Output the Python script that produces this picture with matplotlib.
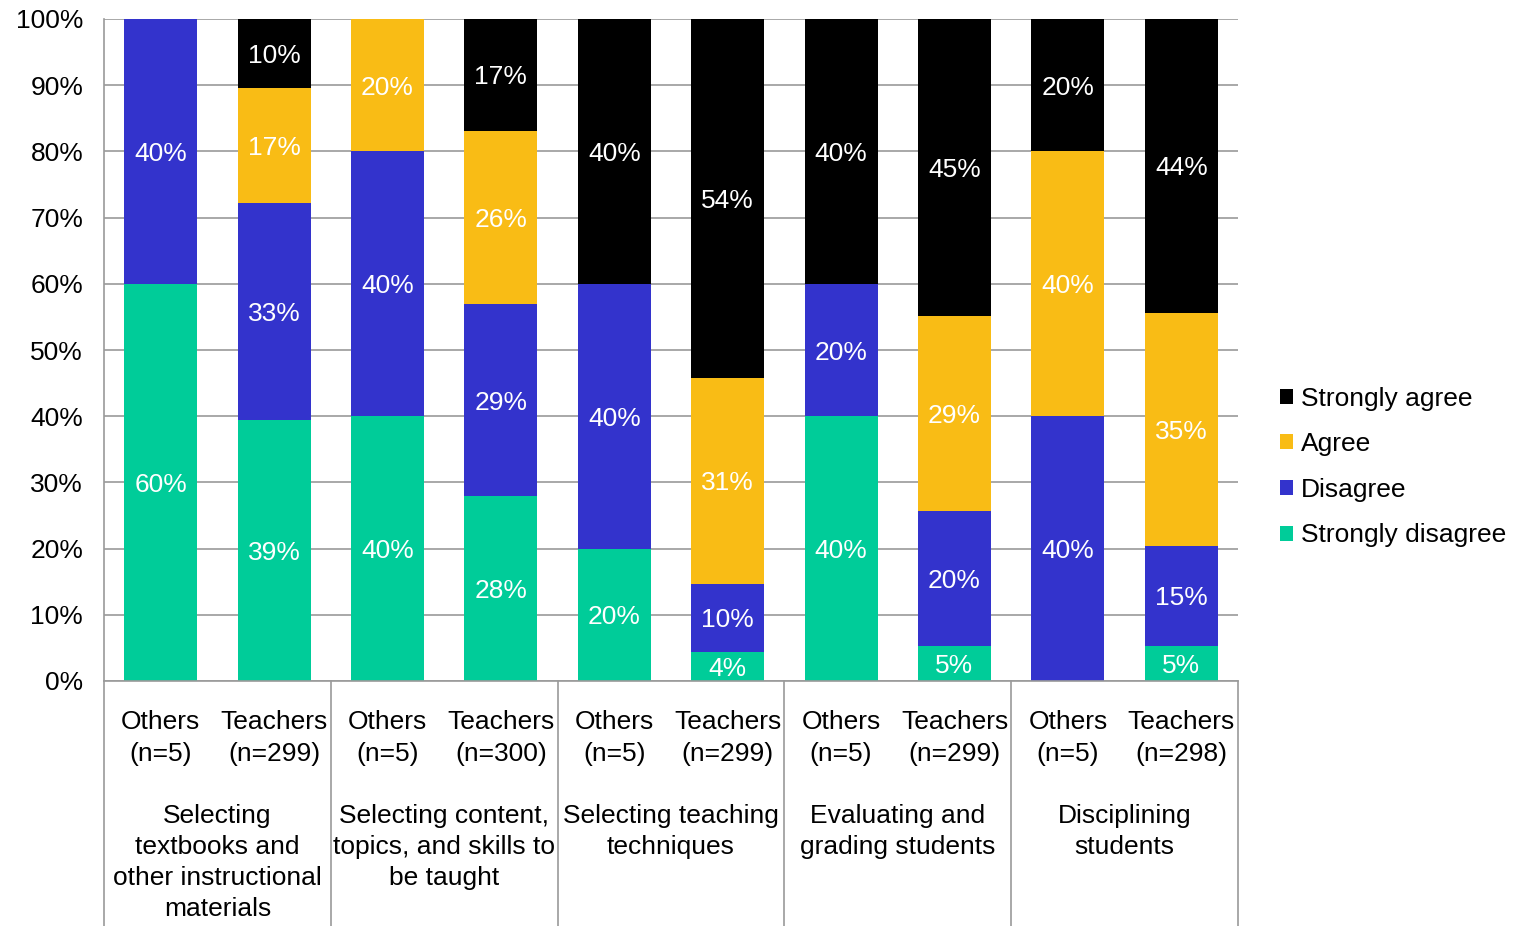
import matplotlib
matplotlib.use("Agg")
import matplotlib.pyplot as plt
import numpy as np
from matplotlib.lines import Line2D
from matplotlib.transforms import blended_transform_factory

plt.rcParams['font.family'] = ['Liberation Sans', 'DejaVu Sans']

# Respondent groups (one bar each) and the activity each pair belongs to
bar_labels = ["Others\n(n=5)", "Teachers\n(n=299)",
              "Others\n(n=5)", "Teachers\n(n=300)",
              "Others\n(n=5)", "Teachers\n(n=299)",
              "Others\n(n=5)", "Teachers\n(n=299)",
              "Others\n(n=5)", "Teachers\n(n=298)"]
group_labels = ["Selecting\ntextbooks and\nother instructional\nmaterials",
                "Selecting content,\ntopics, and skills to\nbe taught",
                "Selecting teaching\ntechniques",
                "Evaluating and\ngrading students",
                "Disciplining\nstudents"]

# Percent of respondents in each response category
strongly_disagree = [60, 39.4, 40, 27.9, 20, 4.4, 40, 5.3, 0, 5.3]
disagree = [40, 32.8, 40, 29.0, 40, 10.3, 20, 20.4, 40, 15.1]
agree = [0, 17.4, 20, 26.2, 0, 31.1, 0, 29.4, 40, 35.2]
strongly_agree = [0, 10.4, 0, 16.9, 40, 54.2, 40, 44.9, 20, 44.4]

series = [("Strongly disagree", strongly_disagree, "#00CC99"),
          ("Disagree", disagree, "#3333CC"),
          ("Agree", agree, "#F9BC15"),
          ("Strongly agree", strongly_agree, "#000000")]

W, H = 1523, 926
fig = plt.figure(figsize=(W / 100, H / 100), dpi=100)
left, right, top, bottom = 104, 1238, 19, 681
ax = fig.add_axes([left / W, 1 - bottom / H, (right - left) / W, (bottom - top) / H])

x = np.arange(len(bar_labels))
fs = 19
base = np.zeros(len(x))
handles = {}
for name, vals, color in series:
    vals = np.array(vals, dtype=float)
    bars = ax.bar(x, vals, bottom=base, width=0.645, color=color, zorder=2)
    handles[name] = bars
    for xi, b, v in zip(x, base, vals):
        if v > 0:
            ax.text(xi, b + v / 2, f"{round(v):.0f}%", ha="center", va="center_baseline",
                    color="white", fontsize=fs, zorder=3)
    base += vals

ax.set_xlim(-0.5, len(x) - 0.5)
ax.set_ylim(0, 100)
ax.set_yticks(np.arange(0, 101, 10))
ax.set_yticklabels([f"{v}%" for v in range(0, 101, 10)], fontsize=fs)
ax.yaxis.grid(True, color="#9A9A9A", linewidth=1.2, zorder=0)
ax.set_axisbelow(True)
ax.tick_params(axis="y", length=0, pad=15)
ax.tick_params(axis="x", length=0)
ax.set_xticks([])
for s in ["top", "right"]:
    ax.spines[s].set_visible(False)
for s in ["left", "bottom"]:
    ax.spines[s].set_color("#9A9A9A")
    ax.spines[s].set_linewidth(1.2)

trans = blended_transform_factory(ax.transData, ax.transAxes)
ph = bottom - top
# Bar labels
for xi, lab in zip(x, bar_labels):
    ax.text(xi, -(738 - bottom) / ph, lab, transform=trans, ha="center", va="center",
            fontsize=fs, linespacing=1.37)
# Group labels
for gi, lab in enumerate(group_labels):
    ax.text(2 * gi + 0.5, -(804 - bottom) / ph, lab, transform=trans, ha="center", va="top",
            fontsize=fs, linespacing=1.37)
# Group separators
for gx in np.arange(-0.5, len(x), 2):
    ax.add_line(Line2D([gx, gx], [0, -(H - bottom + 2) / ph], transform=trans,
                       color="#9A9A9A", linewidth=1.2, clip_on=False))

order = ["Strongly agree", "Agree", "Disagree", "Strongly disagree"]
fig.legend([handles[n] for n in order], order, loc="center left",
           bbox_to_anchor=(1280 / W, 1 - 467 / H), frameon=False, fontsize=fs,
           handlelength=0.5, handleheight=0.5, handletextpad=0.3, labelspacing=0.82,
           borderaxespad=0, borderpad=0)

fig.savefig("out.png", dpi=100)
